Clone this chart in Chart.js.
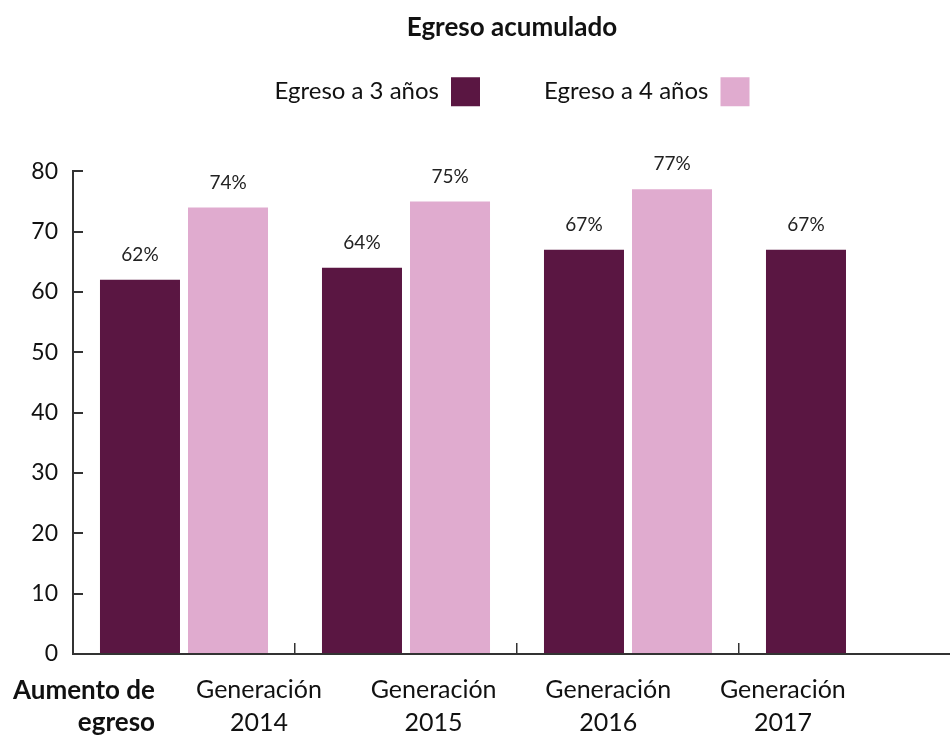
<!DOCTYPE html>
<html>
<head>
<meta charset="utf-8">
<script src="https://cdn.jsdelivr.net/npm/chart.js@4/dist/chart.umd.min.js"></script>
<style>
  html, body { margin: 0; padding: 0; background: #fff; overflow: hidden; }
  #wrap { position: relative; width: 1024px; height: 738px; }
</style>
</head>
<body>
<div id="wrap"><canvas id="egresoChart"></canvas></div>
<script>
const generaciones = ['Generación 2014', 'Generación 2015', 'Generación 2016', 'Generación 2017'];
const egreso3 = [62, 64, 67, 67];
const egreso4 = [74, 75, 77, null];
const serieNombres = ['Egreso a 3 años', 'Egreso a 4 años'];
const ejeLabel = ['Aumento de', 'egreso'];

const FONT = 'Lato, "Open Sans", sans-serif';
const DARK = '#5A1642';
const PINK = '#E0ABCF';
const AXIS = '#333333';
const LABEL_PAD = 20;
const LABEL_LH = 32.5;

// percentage labels above each bar
const barLabels = {
    id: 'barLabels',
    afterDatasetsDraw(chart) {
        const ctx = chart.ctx;
        ctx.save();
        ctx.font = '19px ' + FONT;
        ctx.fillStyle = '#222';
        ctx.textAlign = 'center';
        ctx.textBaseline = 'middle';
        chart.data.datasets.forEach((ds, i) => {
            chart.getDatasetMeta(i).data.forEach((bar, j) => {
                if (ds.data[j] == null) return;
                ctx.fillText(ds.data[j] + '%', bar.x, bar.y - 25);
            });
        });
        ctx.restore();
    }
};

// bold label at the left of the category row
const rowTitle = {
    id: 'rowTitle',
    afterDraw(chart) {
        const top = chart.scales.x2.top + LABEL_PAD;
        const ctx = chart.ctx;
        ctx.save();
        ctx.font = 'bold 26px ' + FONT;
        ctx.fillStyle = '#111';
        ctx.textAlign = 'right';
        ctx.textBaseline = 'middle';
        ejeLabel.forEach((t, i) => ctx.fillText(t, 155, top + LABEL_LH / 2 + i * LABEL_LH));
        ctx.restore();
    }
};

const ctx = document.getElementById('egresoChart').getContext('2d');
const egresoChart = new Chart(ctx, {
    type: 'bar',
    data: {
        labels: generaciones,
        datasets: [
            { label: serieNombres[0], data: egreso3, backgroundColor: DARK, borderWidth: 0,
              categoryPercentage: 0.793, barPercentage: 0.909 },
            { label: serieNombres[1], data: egreso4, backgroundColor: PINK, borderWidth: 0,
              categoryPercentage: 0.793, barPercentage: 0.909 }
        ]
    },
    options: {
        responsive: true,
        maintainAspectRatio: false,
        animation: false,
        layout: { padding: 0 },
        plugins: {
            title: {
                display: true,
                text: 'Egreso acumulado',
                color: '#111',
                font: { family: FONT, size: 26, weight: 'bold' },
                padding: { top: 12, bottom: -30 }
            },
            legend: {
                display: true,
                rtl: true,
                reverse: true,
                labels: {
                    color: '#111',
                    font: { family: FONT, size: 24 },
                    boxWidth: 29,
                    boxHeight: 29,
                    padding: 64
                }
            },
            tooltip: { enabled: false }
        },
        scales: {
            x: {
                position: 'bottom',
                grid: { drawOnChartArea: false, drawTicks: true, tickLength: -11, color: AXIS, lineWidth: 1.5, offset: true },
                border: { display: true, color: AXIS, width: 2 },
                ticks: { display: false },
                afterFit: s => { s.height = 0; }
            },
            x2: {
                type: 'linear',
                position: 'bottom',
                offset: false,
                min: -0.065,
                max: 5.02,
                grid: { display: false, drawTicks: false, offset: false },
                border: { display: false },
                afterBuildTicks: s => { s.ticks = [1, 2, 3, 4].map(v => ({ value: v })); },
                ticks: {
                    autoSkip: false,
                    maxRotation: 0,
                    padding: LABEL_PAD,
                    color: '#111',
                    font: { family: FONT, size: 25, lineHeight: LABEL_LH / 25 },
                    callback: v => generaciones[v - 1] ? generaciones[v - 1].split(' ') : ''
                },
                afterFit: s => { s.height = 84; }
            },
            xT: {
                type: 'linear',
                position: 'top',
                offset: false,
                display: true,
                grid: { display: false, drawTicks: false },
                border: { display: false },
                ticks: { display: false },
                afterFit: s => { s.height = 55; }
            },
            y: {
                min: 0,
                max: 80,
                ticks: { stepSize: 10, padding: 25, color: '#111', font: { family: FONT, size: 23 } },
                grid: { drawOnChartArea: false, drawTicks: true, tickLength: -10, color: AXIS, lineWidth: 2 },
                border: { display: true, color: AXIS, width: 2 },
                afterFit: s => { s.width = 73; }
            },
            yR: {
                position: 'right',
                display: true,
                grid: { display: false, drawTicks: false },
                border: { display: false },
                ticks: { display: false },
                afterFit: s => { s.width = 63; }
            }
        }
    },
    plugins: [barLabels, rowTitle]
});
</script>
</body>
</html>
